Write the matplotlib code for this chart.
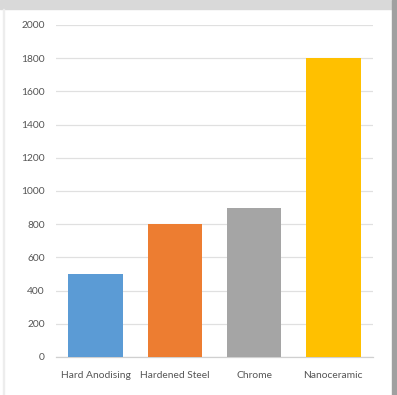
import matplotlib
matplotlib.use("Agg")
import matplotlib.pyplot as plt
from matplotlib.patches import Rectangle

categories = ["Hard Anodising", "Hardened Steel", "Chrome", "Nanoceramic"]
values = [500, 800, 900, 1800]
colors = ["#5B9BD5", "#ED7D31", "#A5A5A5", "#FFC000"]
yticks = [0, 200, 400, 600, 800, 1000, 1200, 1400, 1600, 1800, 2000]

plt.rcParams["font.family"] = ["Lato", "DejaVu Sans"]

fig = plt.figure(figsize=(3.97, 3.95), dpi=100)
W, H = 397.0, 395.0

# frame bits around the chart area (screenshot edges)
fig.patches.append(Rectangle((0, 1 - 9 / H), 1, 9 / H, transform=fig.transFigure,
                             color="#d9d9d9", zorder=0))
fig.patches.append(Rectangle((392 / W, 0), 5 / W, 1, transform=fig.transFigure,
                             color="#a0a0a0", zorder=0))
fig.patches.append(Rectangle((3 / W, 0), 1 / W, 1 - 9 / H, transform=fig.transFigure,
                             color="#ededed", zorder=0))

ax = fig.add_axes([56 / W, 38 / H, (373 - 56) / W, (357 - 25) / H])
x = range(len(categories))
ax.bar(x, values, width=0.69, color=colors, zorder=3)

ax.set_xlim(-0.5, len(categories) - 0.5)
ax.set_ylim(0, 2000)
ax.set_yticks(yticks)
ax.set_xticks(list(x))
ax.set_xticklabels(categories)
ax.grid(axis="y", color="#e0e0e0", linewidth=0.9, zorder=0)
for side in ["top", "right", "left"]:
    ax.spines[side].set_visible(False)
ax.spines["bottom"].set_color("#d0d0d0")
ax.spines["bottom"].set_linewidth(0.9)
ax.tick_params(axis="both", length=0, labelsize=7.4, colors="#555555")
ax.tick_params(axis="y", pad=8)
ax.tick_params(axis="x", pad=10)

fig.savefig("out.png", dpi=100)
